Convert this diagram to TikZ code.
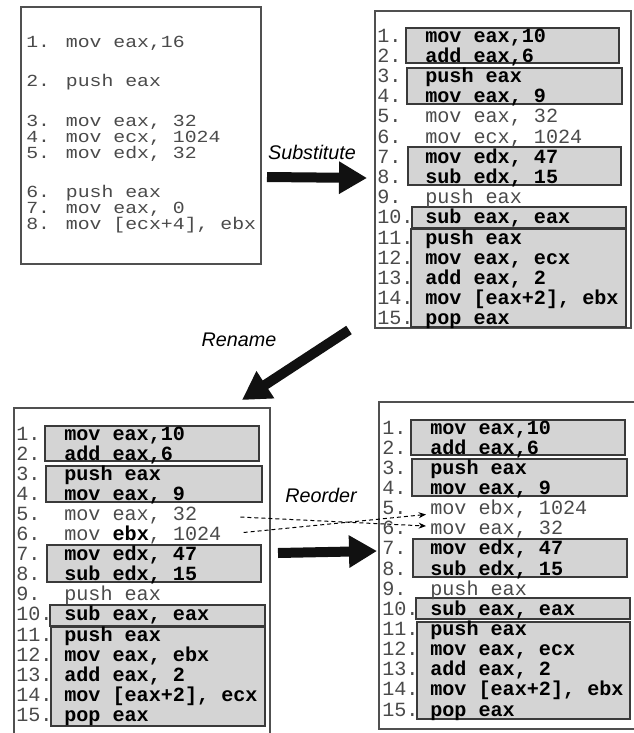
\documentclass[tikz,border=0pt]{standalone}
\usepackage{fontspec}
\setmonofont{Liberation Mono}
\newfontfamily\monostretch{Liberation Mono}[FakeStretch=1.17]
\newfontfamily\labelfont{Liberation Sans}
\usetikzlibrary{arrows.meta,calc}
\definecolor{boxfill}{HTML}{D4D4D4}
\definecolor{boxline}{HTML}{3A3A3A}
\definecolor{frameline}{HTML}{505050}
\definecolor{lighttext}{HTML}{4A4A4A}
\definecolor{arrowcol}{HTML}{111111}
\newcommand\codefont{\ttfamily\fontsize{15.1}{15}\selectfont}
\newcommand\origfont{\monostretch\fontsize{12.7}{15}\selectfont}
\begin{document}
\begin{tikzpicture}[x=0.75pt,y=-0.75pt,
  outerbox/.style={draw=frameline,line width=1pt},
  grp/.style={draw=boxline,fill=boxfill,line width=1pt},
  codenum/.style={anchor=base west,inner sep=0,font=\codefont,text=lighttext},
  codereg/.style={anchor=base west,inner sep=0,font=\codefont,text=lighttext},
  codebold/.style={anchor=base west,inner sep=0,font=\codefont\bfseries,text=black},
  origline/.style={anchor=base west,inner sep=0,font=\origfont,text=lighttext},
  lab/.style={inner sep=0,font={\labelfont\itshape\fontsize{14.8}{16}\selectfont}},
  bigarrow/.style={draw=arrowcol,line width=7.5pt,line cap=butt,-{Triangle[length=21pt,width=23pt]}},
  dasharrow/.style={draw=black,line width=0.75pt,dash pattern=on 3pt off 2.25pt,-{Stealth[length=5.5pt,width=4.5pt]}}
]
\useasboundingbox (0,0) rectangle (634,733);

% ---------- Box 1: original ----------
\draw[outerbox] (21,7) rectangle (261,264);
\node[origline] (a1) at (26,47)  {1. mov eax,16};
\node[origline] (a2) at (26,86)  {2. push eax};
\node[origline] (a3) at (26,126) {3. mov eax, 32};
\node[origline] (a4) at (26,142) {4. mov ecx, 1024};
\node[origline] (a5) at (26,158) {5. mov edx, 32};
\node[origline] (a6) at (26,197) {6. push eax};
\node[origline] (a7) at (26,213) {7. mov eax, 0};
\node[origline] (a8) at (26,229) {8. mov [ecx+4], ebx};

% ---------- Box 2: substituted ----------
\draw[outerbox] (375,11) rectangle (631,328);
\draw[grp] (406,28) rectangle (619,63);
\draw[grp] (407,68) rectangle (622,104);
\draw[grp] (408,147) rectangle (621,185);
\draw[grp] (412,207) rectangle (626,228);
\draw[grp] (411,229) rectangle (626,327);
\foreach \i in {1,...,15} \node[codenum] (bn\i) at (377,{42+20.2*(\i-1)}) {\i.};
\foreach \i/\s/\t in {1/codebold/{mov eax,10},2/codebold/{add eax,6},3/codebold/{push eax},
  4/codebold/{mov eax, 9},5/codereg/{mov eax, 32},6/codereg/{mov ecx, 1024},
  7/codebold/{mov edx, 47},8/codebold/{sub edx, 15},9/codereg/{push eax},
  10/codebold/{sub eax, eax},11/codebold/{push eax},12/codebold/{mov eax, ecx},
  13/codebold/{add eax, 2},14/codebold/{mov [eax+2], ebx},15/codebold/{pop eax}}
  \node[\s] (bc\i) at (425,{42+20.2*(\i-1)}) {\t};

% ---------- Box 3: renamed ----------
\draw[outerbox] (14,745) -- (14,408) -- (270,408) -- (270,745);
\draw[grp] (45,426) rectangle (259,461);
\draw[grp] (46,466) rectangle (262,502);
\draw[grp] (47,545) rectangle (261,582);
\draw[grp] (50,605) rectangle (265,626);
\draw[grp] (51,627) rectangle (265,726);
\foreach \i in {1,...,15} \node[codenum] (cn\i) at (16,{440+20.1*(\i-1)}) {\i.};
\foreach \i/\s/\t in {1/codebold/{mov eax,10},2/codebold/{add eax,6},3/codebold/{push eax},
  4/codebold/{mov eax, 9},5/codereg/{mov eax, 32},6/codereg/{mov {\color{black}\bfseries ebx}, 1024},
  7/codebold/{mov edx, 47},8/codebold/{sub edx, 15},9/codereg/{push eax},
  10/codebold/{sub eax, eax},11/codebold/{push eax},12/codebold/{mov eax, ebx},
  13/codebold/{add eax, 2},14/codebold/{mov [eax+2], ecx},15/codebold/{pop eax}}
  \node[\s] (cc\i) at (64,{440+20.1*(\i-1)}) {\t};

% ---------- Box 4: reordered ----------
\draw[outerbox] (645,402) -- (379,402) -- (379,729) -- (645,729);
\draw[grp] (411,420) rectangle (625,455);
\draw[grp] (412,459) rectangle (627,496);
\draw[grp] (413,539) rectangle (627,577);
\draw[grp] (416,598) rectangle (630,619);
\draw[grp] (417,622) rectangle (630,719);
\foreach \i in {1,...,15} \node[codenum] (dn\i) at (382,{434+20.15*(\i-1)}) {\i.};
\foreach \i/\s/\t in {1/codebold/{mov eax,10},2/codebold/{add eax,6},3/codebold/{push eax},
  4/codebold/{mov eax, 9},5/codereg/{mov ebx, 1024},6/codereg/{mov eax, 32},
  7/codebold/{mov edx, 47},8/codebold/{sub edx, 15},9/codereg/{push eax},
  10/codebold/{sub eax, eax},11/codebold/{push eax},12/codebold/{mov eax, ecx},
  13/codebold/{add eax, 2},14/codebold/{mov [eax+2], ebx},15/codebold/{pop eax}}
  \node[\s] (dc\i) at (430,{434+20.15*(\i-1)}) {\t};

% ---------- labels ----------
\node[lab] (lsub) at (312,152) {Substitute};
\node[lab] (lren) at (239,340) {Rename};
\node[lab] (lreo) at (321,495) {Reorder};

% ---------- big arrows ----------
\coordinate (s1) at (267,177); \coordinate (s2) at (367,178);
\coordinate (r1) at (349,330); \coordinate (r2) at (242,400);
\coordinate (o1) at (278,553); \coordinate (o2) at (377,551);
\draw[bigarrow] (s1) -- (s2);
\draw[bigarrow] (r1) -- (r2);
\draw[bigarrow] (o1) -- (o2);

% ---------- dashed reorder arrows ----------
\draw[dasharrow] ($(cc5.east)+(43,1.6)$) -- ($(dc6.west)+(-4,-3.8)$);
\draw[dasharrow] ($(cc6.east)+(22,-2.5)$) -- ($(dc5.west)+(-4,5.4)$);
\end{tikzpicture}
\end{document}
